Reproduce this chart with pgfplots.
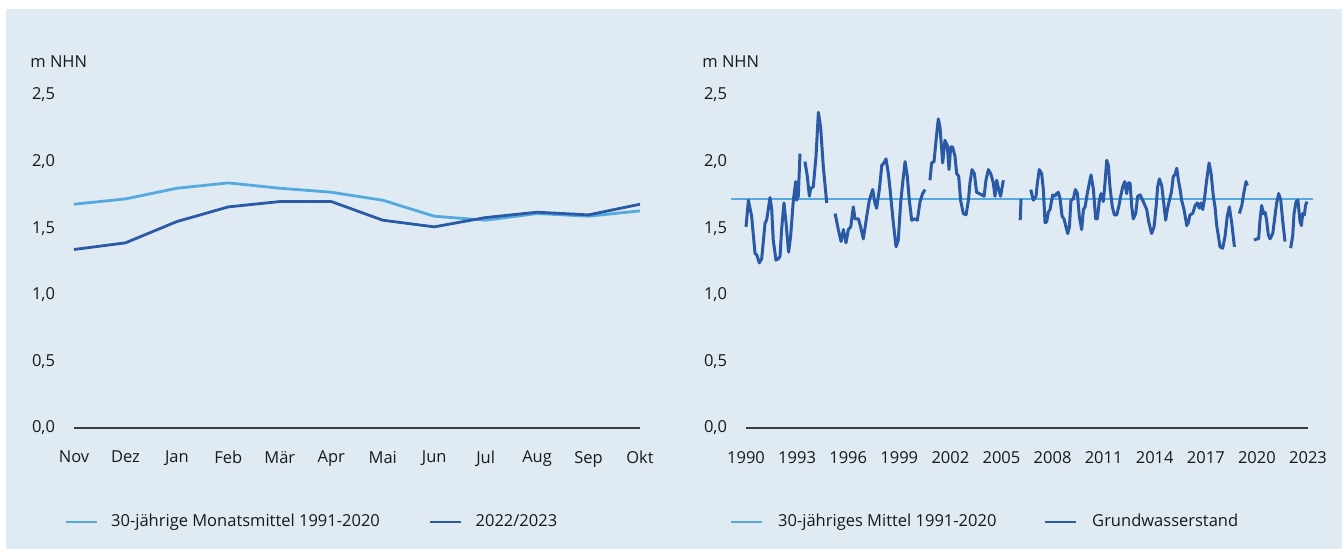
\documentclass[border=0pt]{standalone}
\usepackage{pgfplots}
\pgfplotsset{compat=1.18}
\usepackage{fontspec}
\setmainfont{Open Sans}
\definecolor{bg}{RGB}{223,234,242}
\definecolor{lightline}{RGB}{84,170,222}
\definecolor{darkline}{RGB}{42,90,166}
\definecolor{axisgray}{RGB}{60,60,60}
\definecolor{txt}{RGB}{25,25,25}

\pgfplotsset{
  basestyle/.style={
    scale only axis,
    height=166.5pt,
    ymin=0, ymax=2.5,
    ytick={0,0.5,1,1.5,2,2.5},
    axis x line=bottom,
    axis y line=left,
    x axis line style={-, axisgray, line width=1pt},
    y axis line style={draw=none},
    tick style={draw=none},
    major tick length=0pt,
    font=\fontsize{8.25pt}{10pt}\selectfont,
    tick label style={text=txt},
    yticklabel style={anchor=east, xshift=-6pt,
      /pgf/number format/.cd, fixed, fixed zerofill, precision=1, use comma, assume math mode=true},
    xticklabel style={anchor=north, yshift=-8pt,
      /pgf/number format/.cd, 1000 sep={}, assume math mode=true},
    legend columns=2,
    legend image code/.code={\draw[##1, line width=1.4pt] (0pt,0pt) -- (15.5pt,0pt);},
    clip=false,
  },
}

\begin{document}
\begin{tikzpicture}
\path (0pt,0pt) rectangle (671pt,274.5pt);
\fill[bg] (3pt,0pt) rectangle (671pt,270pt);

% ---------------- left chart ----------------
\begin{axis}[basestyle,
  at={(37pt,60.5pt)}, anchor=south west,
  width=283pt,
  xmin=0, xmax=11,
  xtick={0,1,2,3,4,5,6,7,8,9,10,11},
  xticklabels={Nov,Dez,Jan,Feb,Mär,Apr,Mai,Jun,Jul,Aug,Sep,Okt},
  legend style={draw=none, fill=none, at={(rel axis cs:0,0)}, anchor=west,
    xshift=-5pt, yshift=-47pt, inner sep=0pt, text=txt,
    nodes={inner sep=0pt},
    /tikz/every odd column/.append style={column sep=6.5pt},
    /tikz/every even column/.append style={column sep=24.5pt}},
]
\addplot[lightline, line width=1.4pt] coordinates {
(0,1.68) (1,1.72) (2,1.80) (3,1.84) (4,1.80) (5,1.77) (6,1.71) (7,1.59) (8,1.56) (9,1.61) (10,1.59) (11,1.63)};
\addlegendentry{30-jährige Monatsmittel 1991-2020}
\addplot[darkline, line width=1.4pt] coordinates {
(0,1.34) (1,1.39) (2,1.55) (3,1.66) (4,1.70) (5,1.70) (6,1.56) (7,1.51) (8,1.58) (9,1.62) (10,1.60) (11,1.68)};
\addlegendentry{2022/2023}
\node[anchor=west, inner sep=0pt, text=txt] at (rel axis cs:0,1) [xshift=-22pt, yshift=16.5pt] {m NHN};
\end{axis}

% ---------------- right chart ----------------
\begin{axis}[basestyle,
  at={(373pt,60.5pt)}, anchor=south west,
  width=281pt,
  xmin=1990, xmax=2023,
  xtick={1990,1993,1996,1999,2002,2005,2008,2011,2014,2017,2020,2023},
  unbounded coords=jump,
  legend style={draw=none, fill=none, at={(rel axis cs:0,0)}, anchor=west,
    xshift=-8.5pt, yshift=-47pt, inner sep=0pt, text=txt,
    nodes={inner sep=0pt},
    /tikz/every odd column/.append style={column sep=7.5pt},
    /tikz/every even column/.append style={column sep=23.5pt}},
]
\addplot[lightline, line width=1.3pt] coordinates {(1989.1,1.72) (2023.3,1.72)};
\addlegendentry{30-jähriges Mittel 1991-2020}
\addplot[darkline, line width=1.5pt, line join=round] table {
x y
1990.00 1.51
1990.14 1.71
1990.33 1.59
1990.53 1.31
1990.63 1.30
1990.78 1.24
1990.92 1.27
1991.12 1.54
1991.21 1.56
1991.41 1.73
1991.51 1.64
1991.60 1.41
1991.76 1.26
1991.90 1.27
1992.00 1.29
1992.09 1.49
1992.23 1.69
1992.35 1.54
1992.50 1.32
1992.62 1.44
1992.78 1.71
1992.92 1.85
1992.97 1.71
1993.07 1.74
1993.17 2.06
nan nan
1993.46 2.00
1993.60 1.89
1993.72 1.74
1993.80 1.80
1993.95 1.81
1994.11 2.04
1994.25 2.37
1994.38 2.26
1994.54 1.96
1994.74 1.69
nan nan
1995.23 1.61
1995.42 1.49
1995.58 1.40
1995.72 1.49
1995.87 1.39
1996.01 1.49
1996.15 1.51
1996.30 1.66
1996.40 1.57
1996.60 1.57
1996.73 1.51
1996.89 1.42
1997.09 1.59
1997.24 1.71
1997.44 1.79
1997.57 1.69
1997.67 1.65
1997.83 1.79
1997.97 1.97
1998.10 1.99
1998.22 2.02
1998.36 1.91
1998.46 1.79
1998.65 1.54
1998.81 1.36
1998.94 1.41
1999.08 1.69
1999.20 1.84
1999.34 2.00
1999.47 1.89
1999.59 1.71
1999.73 1.56
1999.92 1.57
2000.06 1.56
2000.22 1.70
2000.37 1.76
2000.51 1.79
nan nan
2000.80 1.86
2000.90 1.99
2001.04 2.00
2001.16 2.16
2001.29 2.32
2001.39 2.26
2001.55 1.99
2001.68 2.16
2001.82 2.12
2001.92 1.94
2002.02 2.11
2002.13 2.11
2002.27 2.04
2002.37 1.91
2002.49 1.89
2002.60 1.71
2002.76 1.61
2002.92 1.60
2003.06 1.71
2003.15 1.84
2003.27 1.94
2003.41 1.91
2003.54 1.77
2003.70 1.76
2003.84 1.75
2003.98 1.74
2004.09 1.86
2004.23 1.94
2004.37 1.91
2004.52 1.84
2004.62 1.74
2004.72 1.86
2004.84 1.79
2004.95 1.74
2005.11 1.86
nan nan
2006.10 1.56
2006.15 1.72
nan nan
2006.72 1.79
2006.87 1.71
2007.03 1.74
2007.11 1.84
2007.22 1.94
2007.36 1.91
2007.46 1.79
2007.56 1.54
2007.66 1.55
2007.75 1.62
2007.85 1.64
2008.01 1.75
2008.14 1.74
2008.24 1.76
2008.34 1.77
2008.44 1.72
2008.56 1.59
2008.67 1.57
2008.79 1.51
2008.89 1.46
2008.99 1.51
2009.08 1.71
2009.22 1.72
2009.34 1.79
2009.46 1.76
2009.57 1.59
2009.71 1.49
2009.81 1.64
2009.91 1.66
2010.04 1.76
2010.16 1.84
2010.26 1.90
2010.40 1.79
2010.53 1.57
2010.63 1.57
2010.75 1.71
2010.85 1.76
2010.98 1.70
2011.08 1.84
2011.18 2.01
2011.28 1.97
2011.37 1.81
2011.51 1.66
2011.63 1.60
2011.77 1.60
2011.90 1.67
2012.00 1.74
2012.12 1.81
2012.24 1.85
2012.35 1.76
2012.45 1.84
2012.55 1.84
2012.65 1.66
2012.74 1.57
2012.88 1.61
2013.00 1.74
2013.14 1.75
2013.29 1.71
2013.43 1.67
2013.53 1.64
2013.66 1.54
2013.82 1.46
2013.96 1.51
2014.08 1.66
2014.17 1.81
2014.27 1.87
2014.41 1.82
2014.51 1.71
2014.64 1.56
2014.74 1.64
2014.86 1.71
2014.98 1.77
2015.09 1.89
2015.19 1.90
2015.29 1.95
2015.39 1.86
2015.49 1.79
2015.58 1.71
2015.72 1.64
2015.88 1.52
2015.97 1.54
2016.07 1.60
2016.23 1.61
2016.37 1.67
2016.50 1.69
2016.62 1.65
2016.72 1.69
2016.82 1.64
2016.91 1.71
2017.05 1.86
2017.19 1.99
2017.31 1.91
2017.44 1.74
2017.54 1.66
2017.64 1.52
2017.74 1.44
2017.83 1.36
2017.99 1.35
2018.13 1.44
2018.26 1.59
2018.38 1.66
2018.52 1.54
2018.68 1.36
nan nan
2018.97 1.61
2019.11 1.67
2019.24 1.77
2019.36 1.85
2019.44 1.82
nan nan
2019.83 1.41
2019.99 1.42
2020.10 1.42
2020.18 1.56
2020.28 1.67
2020.38 1.61
2020.48 1.62
2020.57 1.56
2020.67 1.45
2020.77 1.42
2020.93 1.46
2021.06 1.59
2021.16 1.69
2021.28 1.76
2021.40 1.71
2021.51 1.56
2021.65 1.40
nan nan
2021.98 1.35
2022.10 1.44
2022.18 1.61
2022.30 1.70
2022.41 1.71
2022.53 1.55
2022.61 1.52
2022.69 1.61
2022.79 1.60
2022.85 1.67
2022.94 1.70
};
\addlegendentry{Grundwasserstand}
\node[anchor=west, inner sep=0pt, text=txt] at (rel axis cs:0,1) [xshift=-22pt, yshift=16.5pt] {m NHN};
\end{axis}
\end{tikzpicture}
\end{document}
